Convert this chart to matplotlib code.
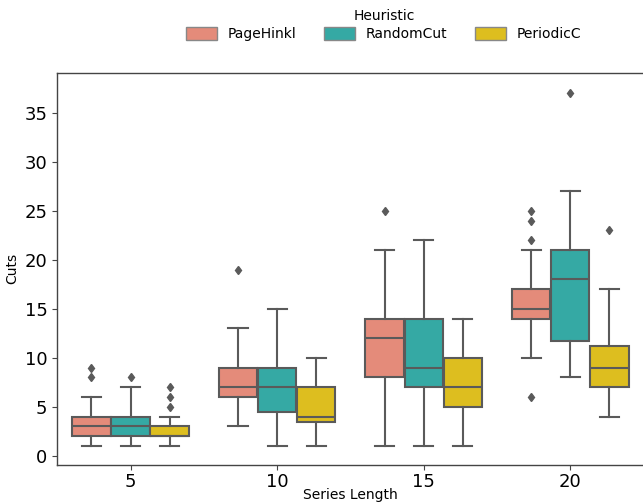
import matplotlib
matplotlib.use("Agg")
import matplotlib.pyplot as plt
from matplotlib.patches import Patch

# ---- data ----
lengths = ["5", "10", "15", "20"]
heuristics = ["PageHinkl", "RandomCut", "PeriodicC"]
colors = ["#E48B7A", "#35A9A4", "#DDBE1F"]

# per heuristic, per series length: [whislo, q1, median, q3, whishi]
pagehinkl_stats = [[1, 2, 3, 4, 6], [3, 6, 7, 9, 13], [1, 8, 12, 14, 21], [10, 14, 15, 17, 21]]
randomcut_stats = [[1, 2, 3, 4, 7], [1, 4.5, 7, 9, 15], [1, 7, 9, 14, 22], [8, 11.75, 18, 21, 27]]
periodicc_stats = [[1, 2, 2, 3, 4], [1, 3.5, 4, 7, 10], [1, 5, 7, 10, 14], [4, 7, 9, 11.25, 17]]

pagehinkl_fliers = [[8, 9], [19], [25], [22, 24, 25, 6]]
randomcut_fliers = [[8], [], [], [37]]
periodicc_fliers = [[5, 6, 7], [], [], [23]]

all_stats = [pagehinkl_stats, randomcut_stats, periodicc_stats]
all_fliers = [pagehinkl_fliers, randomcut_fliers, periodicc_fliers]

fig = plt.figure(figsize=(6.43, 5.04), dpi=100)
ax = fig.add_axes([0.089, 0.078, 0.912, 0.777])

line_col = "#5a5a5a"
n = len(heuristics)
group_w = 0.8
box_w = group_w / n * 0.98
offsets = [(-group_w / 2 + group_w / n * (k + 0.5)) for k in range(n)]

for k in range(n):
    stats = []
    for i in range(len(lengths)):
        lo, q1, med, q3, hi = all_stats[k][i]
        stats.append(dict(whislo=lo, q1=q1, med=med, q3=q3, whishi=hi,
                          fliers=all_fliers[k][i]))
    positions = [i + offsets[k] for i in range(len(lengths))]
    ax.bxp(stats, positions=positions, widths=box_w, patch_artist=True,
           showfliers=True, manage_ticks=False,
           boxprops=dict(facecolor=colors[k], edgecolor=line_col, linewidth=1.5),
           medianprops=dict(color=line_col, linewidth=1.5),
           whiskerprops=dict(color=line_col, linewidth=1.5),
           capprops=dict(color=line_col, linewidth=1.5),
           flierprops=dict(marker="d", markerfacecolor=line_col,
                           markeredgecolor=line_col, markersize=4.5))

ax.set_xticks(range(len(lengths)))
ax.set_xticklabels(lengths)
ax.set_xlim(-0.5, len(lengths) - 0.5)
ax.set_ylim(-0.9, 39.05)
ax.set_yticks([0, 5, 10, 15, 20, 25, 30, 35])
ax.tick_params(axis="both", labelsize=13, color="#444444", length=3.5)
ax.tick_params(axis="x", pad=2.5)
ax.set_xlabel("Series Length", fontsize=10, labelpad=-2)
ax.set_ylabel("Cuts", fontsize=10)
for s in ax.spines.values():
    s.set_color("#444444")
    s.set_linewidth(1.0)

handles = [Patch(facecolor=c, edgecolor="#888888", label=h) for h, c in zip(heuristics, colors)]
fig.legend(handles=handles, title="Heuristic", loc="center", ncol=3,
           bbox_to_anchor=(0.597, 0.95), frameon=False, fontsize=10,
           title_fontsize=10, handlelength=2.2, handleheight=1.0,
           columnspacing=2.0, borderpad=0.2, labelspacing=0.3)

fig.savefig("out.png", dpi=100)
